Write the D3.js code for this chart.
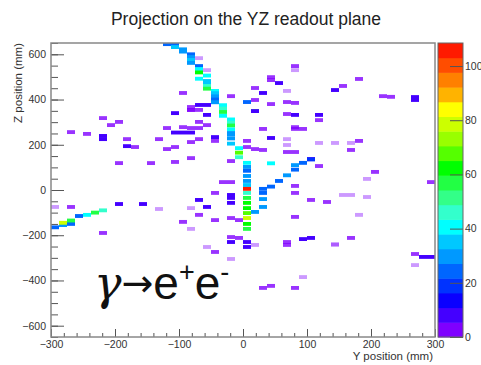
<!DOCTYPE html>
<html>
<head>
<meta charset="utf-8">
<script src="https://cdn.jsdelivr.net/npm/d3@7"></script>
<style>
  html, body { margin: 0; padding: 0; background: #fff; }
  svg { display: block; font-family: "Liberation Sans", Arial, sans-serif; }
  .tick text { fill: #333; font-size: 10.5px; }
  .tick line { stroke: #555; }
</style>
</head>
<body>
<div id="app"></div>
<script>
// axis ticks
const yTicks = [-300, -200, -100, 0, 100, 200, 300];
const zTicks = [-600, -400, -200, 0, 200, 400, 600];
const colorTicks = [0, 20, 40, 60, 80, 100];

// hits along the main (upper) track: [Y mm, Z mm, counts]
const trackMain = [
  [-120, 645, 22], [-105, 645, 22], [-105, 632, 36], [-100, 622, 30], [-95, 612, 30],
  [-85, 600, 22], [-80, 588, 30], [-78, 575, 35], [-76, 562, 28], [-75, 548, 25],
  [-70, 535, 40], [-67, 520, 60], [-62, 506, 40], [-64, 492, 38], [-58, 482, 35],
  [-55, 470, 35], [-53, 460, 45], [-52, 448, 58], [-50, 438, 40], [-47, 428, 35],
  [-45, 414, 30], [-44, 400, 22], [-40, 388, 30], [-36, 375, 38], [-35, 360, 45],
  [-33, 345, 55], [-28, 328, 40], [-22, 312, 38], [-20, 298, 45], [-22, 285, 55],
  [-22, 268, 40], [-25, 252, 30], [-14, 245, 28], [-18, 228, 30], [-14, 205, 35],
  [-10, 185, 40], [-5, 165, 68], [-3, 145, 45], [3, 120, 38], [2, 102, 30],
  [3, 85, 25], [4, 62, 28], [5, 40, 30], [8, 22, 35], [12, 5, 105],
  [12, -13, 45], [12, -35, 55], [12, -57, 60], [10, -80, 62], [12, -102, 70],
  [12, -124, 80], [12, -150, 60], [12, -172, 58]
];

// hits along the branch going up to the right of the vertex
const trackRight = [
  [25, 5, 22], [34, -13, 22], [34, -40, 30], [27, -75, 30], [23, -97, 28],
  [45, 15, 22], [58, 40, 25], [66, 65, 30], [75, 90, 22], [84, 110, 32],
  [95, 120, 22], [105, 135, 20], [44, 118, 40]
];

// hits along the short track at the left edge
const trackLeft = [
  [-292, -165, 22], [-286, -155, 32], [-285, -145, 80], [-275, -150, 25],
  [-265, -135, 58], [-255, -115, 22], [-245, -110, 38], [-235, -100, 55],
  [-222, -90, 45]
];

// isolated low-count hits
const scatterHits = [
  [-91, 429, 3], [-86, 354, 3], [-78, 354, 3], [-105, 340, 8], [-75, 301, 3],
  [-216, 318, 3], [-205, 287, 3], [-195, 301, 3], [-266, 256, 3], [-245, 248, 3],
  [-225, 239, 8], [-214, 225, 8], [-184, 225, 3], [-136, 225, 3], [-184, 194, 8],
  [-166, 190, 3], [-117, 274, 3], [-95, 278, 3], [-106, 254, 8], [-93, 254, 8],
  [-80, 254, 8], [-80, 274, 3], [-117, 181, 3], [-102, 190, 3], [-86, 212, 3],
  [-195, 119, 3], [-145, 119, 3], [-106, 124, 3], [-86, 141, 3], [-63, 583, 1],
  [-56, 530, 1], [84, 548, 3], [77, 530, 1], [45, 499, 3], [38, 486, 3],
  [50, 473, 8], [16, 451, 3], [34, 429, 8], [66, 438, 1], [-25, 415, 3],
  [23, 398, 3], [42, 380, 3], [66, 389, 3], [77, 385, 3], [6, 389, 22],
  [23, 349, 55], [14, 349, 8], [-63, 376, 8], [-52, 376, 8], [-86, 367, 3],
  [-64, 354, 3], [-52, 332, 8], [73, 336, 3], [86, 332, 8], [116, 332, 8],
  [116, 309, 3], [-56, 287, 3], [-64, 274, 3], [34, 270, 3], [77, 270, 3],
  [94, 270, 3], [84, 278, 3], [-63, 225, 3], [-47, 234, 8], [-47, 217, 3],
  [45, 230, 8], [6, 217, 3], [66, 225, 1], [66, 199, 1], [116, 208, 1],
  [147, 208, 1], [164, 208, 1], [6, 190, 3], [27, 177, 3], [66, 168, 3],
  [-25, 128, 3], [105, 137, 8], [-31, 35, 3], [-20, 35, 3], [84, 18, 3],
  [-47, -13, 3], [-25, -22, 8], [156, -22, 1], [170, -22, 1], [155, 460, 3],
  [145, 442, 8], [164, 177, 3], [180, 217, 3], [84, 168, 3], [23, 181, 3],
  [116, 106, 3], [184, 491, 3], [214, 415, 2], [228, 412, 2], [266, 411, 8],
  [266, 398, 8], [205, 80, 3], [195, 49, 1], [195, -31, 1], [295, 35, 3],
  [184, -110, 1], [173, -212, 3], [145, -239, 1], [273, -283, 3], [285, -296, 8],
  [298, -296, 8], [273, -332, 1], [105, -44, 3], [125, -53, 3], [94, -217, 8],
  [105, -212, 8], [94, -385, 1], [-16, -35, 8], [-16, -57, 8], [-72, -44, 8],
  [-55, -75, 8], [-86, -80, 1], [-75, -110, 3], [-47, -133, 3], [-25, -124, 3],
  [-5, -133, 3], [-95, -141, 3], [-86, -172, 1], [84, -13, 3], [84, -119, 3],
  [-25, -208, 3], [-16, -230, 8], [-5, -212, 3], [6, -230, 8], [6, -252, 8],
  [23, -243, 1], [63, -230, 3], [73, -243, 3], [144, -243, 1], [-55, -252, 1],
  [-47, -274, 3], [-25, -305, 1], [34, -433, 3], [45, -424, 3], [77, -433, 3],
  [-288, -75, 1], [-266, -75, 3], [-195, -62, 8], [-156, -62, 8], [-136, -84, 1],
  [-225, -190, 3]
];

// ROOT-like 20 level rainbow palette
const palette = [
  "#7f00ff", "#4400ff", "#0a00ff", "#0033ff", "#0066ff", "#0099ff", "#00c8ff",
  "#00ffff", "#33ffcc", "#33ff88", "#22ff44", "#00ff00", "#55ff00", "#99ff00",
  "#ccff00", "#ffff00", "#ffb300", "#ff8000", "#ff4d00", "#ff1a00"
];

const W = 481, H = 365;
const frame = { left: 51, right: 435, top: 43, bottom: 337 };
const bar = { left: 438, right: 463 };
const binY = 12.5, binZ = 17;

const svg = d3.select("#app").append("svg").attr("width", W).attr("height", H);

const x = d3.scaleLinear().domain([-300, 300]).range([frame.left, frame.right]);
const y = d3.scaleLinear().domain([-650, 650]).range([frame.bottom, frame.top]);
const zMax = 108.5;
const color = d3.scaleQuantize().domain([0, zMax]).range(palette);

const cells = scatterHits.concat(trackLeft, trackRight, trackMain);

const plot = svg.append("g");
plot.append("clipPath").attr("id", "clip")
  .append("rect")
  .attr("x", frame.left).attr("y", frame.top)
  .attr("width", frame.right - frame.left).attr("height", frame.bottom - frame.top);

plot.append("g").attr("clip-path", "url(#clip)")
  .selectAll("rect")
  .data(cells)
  .join("rect")
  .attr("x", d => x(-300 + Math.floor((d[0] + 300) / binY) * binY))
  .attr("width", x(binY) - x(0))
  .attr("y", d => y(d[1] + binZ / 2))
  .attr("height", y(0) - y(binZ))
  .attr("fill", d => color(d[2]))
  .attr("opacity", d => d[2] < 2 ? 0.4 : (d[2] < 4 ? 0.8 : 1));

// axes
const xMinor = d3.range(-300, 301, 20);
const zMinor = d3.range(-650, 651, 50);

svg.append("g")
  .attr("transform", `translate(0,${frame.bottom})`)
  .call(d3.axisBottom(x).tickValues(xMinor).tickSize(-4).tickFormat(""))
  .call(g => g.select(".domain").remove());
svg.append("g")
  .attr("transform", `translate(0,${frame.bottom})`)
  .call(d3.axisBottom(x).tickValues(yTicks).tickSize(-8).tickPadding(4).tickFormat(d3.format("d")))
  .call(g => g.select(".domain").remove());

svg.append("g")
  .attr("transform", `translate(${frame.left},0)`)
  .call(d3.axisLeft(y).tickValues(zMinor).tickSize(-7).tickFormat(""))
  .call(g => g.select(".domain").remove());
svg.append("g")
  .attr("transform", `translate(${frame.left},0)`)
  .call(d3.axisLeft(y).tickValues(zTicks).tickSize(-13).tickPadding(5).tickFormat(d3.format("d")))
  .call(g => g.select(".domain").remove());

svg.append("rect")
  .attr("x", frame.left).attr("y", frame.top)
  .attr("width", frame.right - frame.left).attr("height", frame.bottom - frame.top)
  .attr("fill", "none").attr("stroke", "#888").attr("stroke-width", 1.5);

// colour bar
const cz = d3.scaleLinear().domain([0, zMax]).range([frame.bottom, frame.top]);
const levels = palette.map((c, i) => [i * zMax / palette.length, (i + 1) * zMax / palette.length, c]);
svg.append("g").selectAll("rect")
  .data(levels)
  .join("rect")
  .attr("x", bar.left)
  .attr("width", bar.right - bar.left)
  .attr("y", d => cz(d[1]))
  .attr("height", d => cz(d[0]) - cz(d[1]) + 0.5)
  .attr("fill", d => d[2]);

svg.append("g")
  .attr("transform", `translate(${bar.right},0)`)
  .call(d3.axisRight(cz).tickValues(colorTicks).tickSize(-13).tickPadding(2))
  .call(g => g.select(".domain").remove());

svg.append("rect")
  .attr("x", bar.left).attr("y", frame.top)
  .attr("width", bar.right - bar.left).attr("height", frame.bottom - frame.top)
  .attr("fill", "none").attr("stroke", "#666").attr("stroke-width", 1);

// titles
svg.append("text")
  .attr("x", 246).attr("y", 25)
  .attr("text-anchor", "middle")
  .attr("font-size", 17.5).attr("fill", "#222")
  .text("Projection on the YZ readout plane");

svg.append("text")
  .attr("x", frame.right - 2).attr("y", 360)
  .attr("text-anchor", "end")
  .attr("font-size", 11.5).attr("fill", "#333")
  .text("Y position (mm)");

svg.append("text")
  .attr("transform", `translate(22,${frame.top}) rotate(-90)`)
  .attr("text-anchor", "end")
  .attr("font-size", 11.5).attr("fill", "#333")
  .text("Z position (mm)");

// reaction label
const label = svg.append("text")
  .attr("x", 94).attr("y", 299)
  .attr("font-size", 46).attr("fill", "#111");
label.append("tspan").attr("font-family", "DejaVu Serif").attr("font-style", "italic").text("γ");
label.append("tspan").attr("font-family", "DejaVu Sans").attr("font-size", 38).attr("dy", -3).text("→");
label.append("tspan").attr("dy", 3).text("e");
label.append("tspan").attr("font-size", 27).attr("dy", -18).text("+");
label.append("tspan").attr("dy", 18).text("e");
label.append("tspan").attr("font-size", 27).attr("dy", -18).text("-");
</script>
</body>
</html>
